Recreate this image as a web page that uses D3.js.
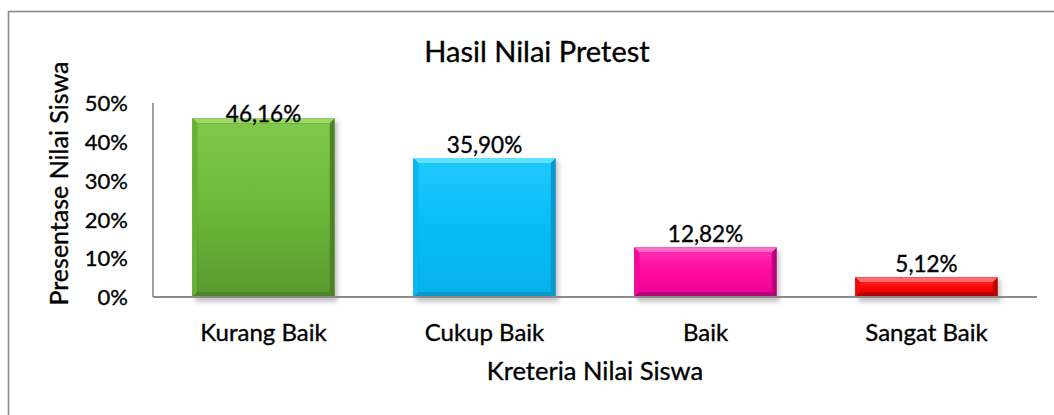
<!DOCTYPE html>
<html><head><meta charset="utf-8">
<script src="https://cdn.jsdelivr.net/npm/d3@7"></script>
<style>
html,body{margin:0;padding:0;background:#fff;}
svg{display:block;font-family:Lato,"Open Sans",sans-serif;}
svg text{stroke:#000;stroke-width:0.35px;paint-order:stroke;}
</style></head>
<body><svg id="chart" width="1054" height="415"></svg>
<script>
const categories = ["Kurang Baik", "Cukup Baik", "Baik", "Sangat Baik"];
const values = [46.16, 35.90, 12.82, 5.12];
const valueLabels = ["46,16%", "35,90%", "12,82%", "5,12%"];
const tickValues = [0, 10, 20, 30, 40, 50];
const tickLabels = ["0%", "10%", "20%", "30%", "40%", "50%"];
const palette = [
  {top:"#80c74a", mid:"#6cb93a", bot:"#5a9a30", edge:"#4b8526", hi:"#9ad86a"},
  {top:"#20c8fb", mid:"#06bcf8", bot:"#06b2ec", edge:"#0898c9", hi:"#5ee2ff"},
  {top:"#ff2ab0", mid:"#ff08a0", bot:"#f0049a", edge:"#b8007a", hi:"#ff6ccc"},
  {top:"#ff2020", mid:"#ff0606", bot:"#f00000", edge:"#b80000", hi:"#ff6a6a"}
];

const svg = d3.select("#chart");
const plot = {left:153, right:1037, top:103.5, bottom:297};

// chart area border (extends past right/bottom edge as in reference)
svg.append("rect").attr("x",8.5).attr("y",11.5).attr("width",1060).attr("height",420)
  .attr("fill","#fff").attr("stroke","#8a8a8a").attr("stroke-width",1.6);

const x = d3.scaleBand().domain(categories).range([plot.left, plot.right]).paddingInner(0.355).paddingOuter(0.1775);
const y = d3.scaleLinear().domain([0, 50]).range([plot.bottom, plot.top]);

const defs = svg.append("defs");
const f = defs.append("filter").attr("id","shadow").attr("x","-20%").attr("y","-20%").attr("width","140%").attr("height","140%");
f.append("feGaussianBlur").attr("stdDeviation",2.2);

palette.forEach((p,i)=>{
  const g = defs.append("linearGradient").attr("id","g"+i).attr("x1",0).attr("y1",0).attr("x2",0).attr("y2",1);
  g.append("stop").attr("offset","0%").attr("stop-color",p.top);
  g.append("stop").attr("offset","50%").attr("stop-color",p.mid);
  g.append("stop").attr("offset","100%").attr("stop-color",p.bot);
});

const bars = svg.append("g").selectAll("g").data(values).join("g");
bars.append("rect")
  .attr("x",(d,i)=>x(categories[i])+3).attr("y",d=>y(d)+3)
  .attr("width",x.bandwidth()).attr("height",d=>plot.bottom-y(d)+2)
  .attr("fill","#9a9a9a").attr("opacity",0.55).attr("filter","url(#shadow)");
bars.append("rect")
  .attr("x",(d,i)=>x(categories[i])).attr("y",d=>y(d))
  .attr("width",x.bandwidth()).attr("height",d=>plot.bottom-y(d))
  .attr("fill",(d,i)=>palette[i].edge);
const bev = 5;
bars.append("path")
  .attr("d",(d,i)=>{const x0=x(categories[i]),x1=x0+x.bandwidth(),y0=y(d);
    return `M${x0},${y0}L${x1},${y0}L${x1-bev},${y0+bev}L${x0+bev},${y0+bev}Z`;})
  .attr("fill",(d,i)=>palette[i].hi);
bars.append("path")
  .attr("d",(d,i)=>{const x0=x(categories[i]),y0=y(d),y1=plot.bottom;
    return `M${x0},${y0}L${x0+bev},${y0+bev}L${x0+bev},${y1-bev}L${x0},${y1}Z`;})
  .attr("fill",(d,i)=>palette[i].mid).attr("opacity",0.85);
bars.append("rect")
  .attr("x",(d,i)=>x(categories[i])+bev).attr("y",d=>y(d)+bev)
  .attr("width",x.bandwidth()-2*bev).attr("height",d=>Math.max(0,plot.bottom-y(d)-2*bev))
  .attr("fill",(d,i)=>`url(#g${i})`);

svg.append("line").attr("x1",plot.left).attr("x2",plot.left).attr("y1",plot.top-0.5).attr("y2",plot.bottom)
  .attr("stroke","#8a8a8a").attr("stroke-width",1.6);
svg.append("line").attr("x1",plot.left).attr("x2",plot.right).attr("y1",plot.bottom).attr("y2",plot.bottom)
  .attr("stroke","#8a8a8a").attr("stroke-width",1.8);

svg.append("g").selectAll("text").data(tickValues).join("text")
  .attr("x",128).attr("y",d=>y(d)).attr("dy","0.36em").attr("text-anchor","end")
  .attr("font-size",22).attr("fill","#000").text((d,i)=>tickLabels[i]);

svg.append("g").selectAll("text").data(categories).join("text")
  .attr("x",d=>x(d)+x.bandwidth()/2).attr("y",340.5).attr("text-anchor","middle")
  .attr("font-size",24).attr("fill","#000").text(d=>d);

bars.append("text")
  .attr("x",(d,i)=>x(categories[i])+x.bandwidth()/2)
  .attr("y",d=>Math.max(y(d)-5, plot.top+18))
  .attr("text-anchor","middle").attr("font-size",22.5).attr("fill","#000")
  .text((d,i)=>valueLabels[i]);

svg.append("text").attr("x",537).attr("y",62).attr("text-anchor","middle")
  .attr("font-size",29).attr("fill","#000").text("Hasil Nilai Pretest");
svg.append("text").attr("x",595).attr("y",380).attr("text-anchor","middle")
  .attr("font-size",25.5).attr("fill","#000").text("Kreteria Nilai Siswa");
svg.append("text").attr("transform","translate(68,183.5) rotate(-90)").attr("text-anchor","middle")
  .attr("font-size",25).attr("fill","#000").text("Presentase Nilai Siswa");
</script></body></html>
